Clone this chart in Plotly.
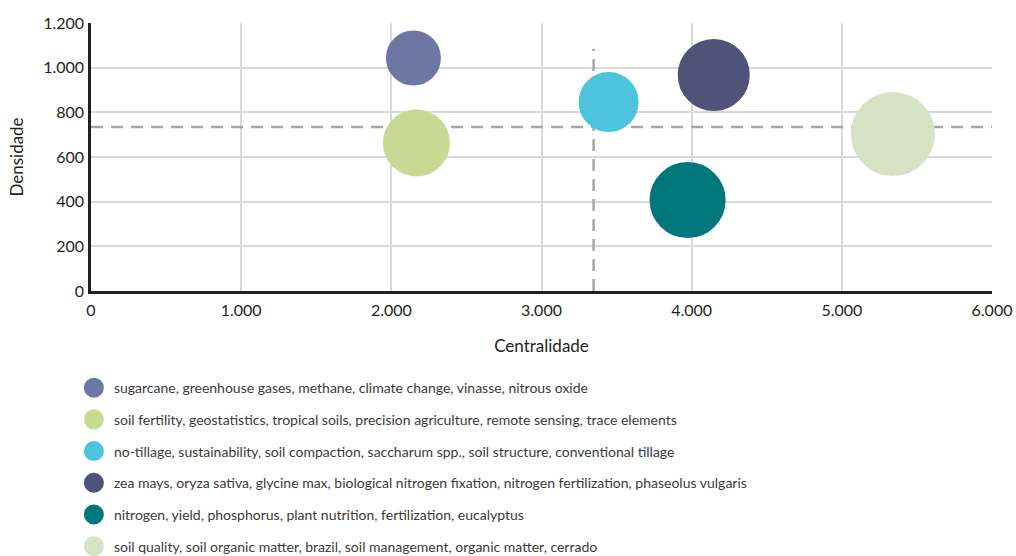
import plotly.graph_objects as go

# ---- data ----
clusters = [
    "sugarcane, greenhouse gases, methane, climate change, vinasse, nitrous oxide",
    "soil fertility, geostatistics, tropical soils, precision agriculture, remote sensing, trace elements",
    "no-tillage, sustainability, soil compaction, saccharum spp., soil structure, conventional tillage",
    "zea mays, oryza sativa, glycine max, biological nitrogen fixation, nitrogen fertilization, phaseolus vulgaris",
    "nitrogen, yield, phosphorus, plant nutrition, fertilization, eucalyptus",
    "soil quality, soil organic matter, brazil, soil management, organic matter, cerrado",
]
centralidade = [2147, 2167, 3447, 4147, 3973, 5340]
densidade = [1043, 663, 846, 967, 407, 703]
bubble_value = [55, 67, 60, 72, 76, 84]
colors = ["#6E77A4", "#C8D993", "#4DC4DC", "#4E5377", "#00777B", "#D5E3C4"]

mean_centralidade = 3347
mean_densidade = 734
vline_top = 1084

x_ticks = [0, 1000, 2000, 3000, 4000, 5000, 6000]
y_ticks = [0, 200, 400, 600, 800, 1000, 1200]

FONT = "Lato"
LINE_W = 4

fig = go.Figure()
for i in range(len(clusters)):
    fig.add_trace(go.Scatter(
        x=[centralidade[i]], y=[densidade[i]],
        mode="markers",
        name=clusters[i],
        legendgroup=f"g{i}",
        marker=dict(size=[bubble_value[i] - LINE_W], sizemode="diameter", sizeref=1,
                    color=colors[i], opacity=1,
                    line=dict(color=colors[i], width=LINE_W)),
        hoverinfo="x+y+name",
    ))

fig.add_shape(type="line", xref="x", yref="y", x0=0, x1=6000,
              y0=mean_densidade, y1=mean_densidade, layer="between",
              line=dict(color="#A6A6A8", width=2.5, dash="12px,8px"))
fig.add_shape(type="line", xref="x", yref="y", x0=mean_centralidade, x1=mean_centralidade,
              y0=0, y1=vline_top, layer="between",
              line=dict(color="#A6A6A8", width=2.5, dash="12px,8px"))

fig.update_layout(
    width=1016, height=556,
    margin=dict(l=91, r=24, t=23, b=265, autoexpand=False),
    paper_bgcolor="white", plot_bgcolor="white",
    separators=",.",
    font=dict(family=FONT, color="#231F20"),
    showlegend=True,
    legend=dict(x=-0.019, xanchor="left", y=-0.3025, yanchor="top",
                orientation="v", tracegroupgap=10.5, itemsizing="trace",
                font=dict(family=FONT, size=14, color="#3A3A3A"),
                bgcolor="rgba(0,0,0,0)"),
    xaxis=dict(range=[0, 6000], tickvals=x_ticks, tickformat=",d",
               showgrid=True, gridcolor="#D9D9D9", gridwidth=1.5,
               zeroline=False, showline=True, linecolor="#231F20", linewidth=2.5,
               ticks="outside", ticklen=3, tickcolor="rgba(0,0,0,0)",
               tickfont=dict(family=FONT, size=16, color="#231F20"),
               title=dict(text="Centralidade", standoff=23,
                          font=dict(family=FONT, size=17, color="#231F20"))),
    yaxis=dict(range=[0, 1200], tickvals=y_ticks, tickformat=",d",
               showgrid=True, gridcolor="#D9D9D9", gridwidth=1.5,
               zeroline=False, showline=True, linecolor="#231F20", linewidth=2.5,
               ticks="outside", ticklen=1, tickcolor="rgba(0,0,0,0)",
               tickfont=dict(family=FONT, size=16, color="#231F20"),
               title=dict(text="Densidade", standoff=16,
                          font=dict(family=FONT, size=17, color="#231F20"))),
)

fig.write_html("out.html",
               config={"displayModeBar": False},
               post_script="document.body.style.margin='0px';document.body.style.overflow='hidden';")
